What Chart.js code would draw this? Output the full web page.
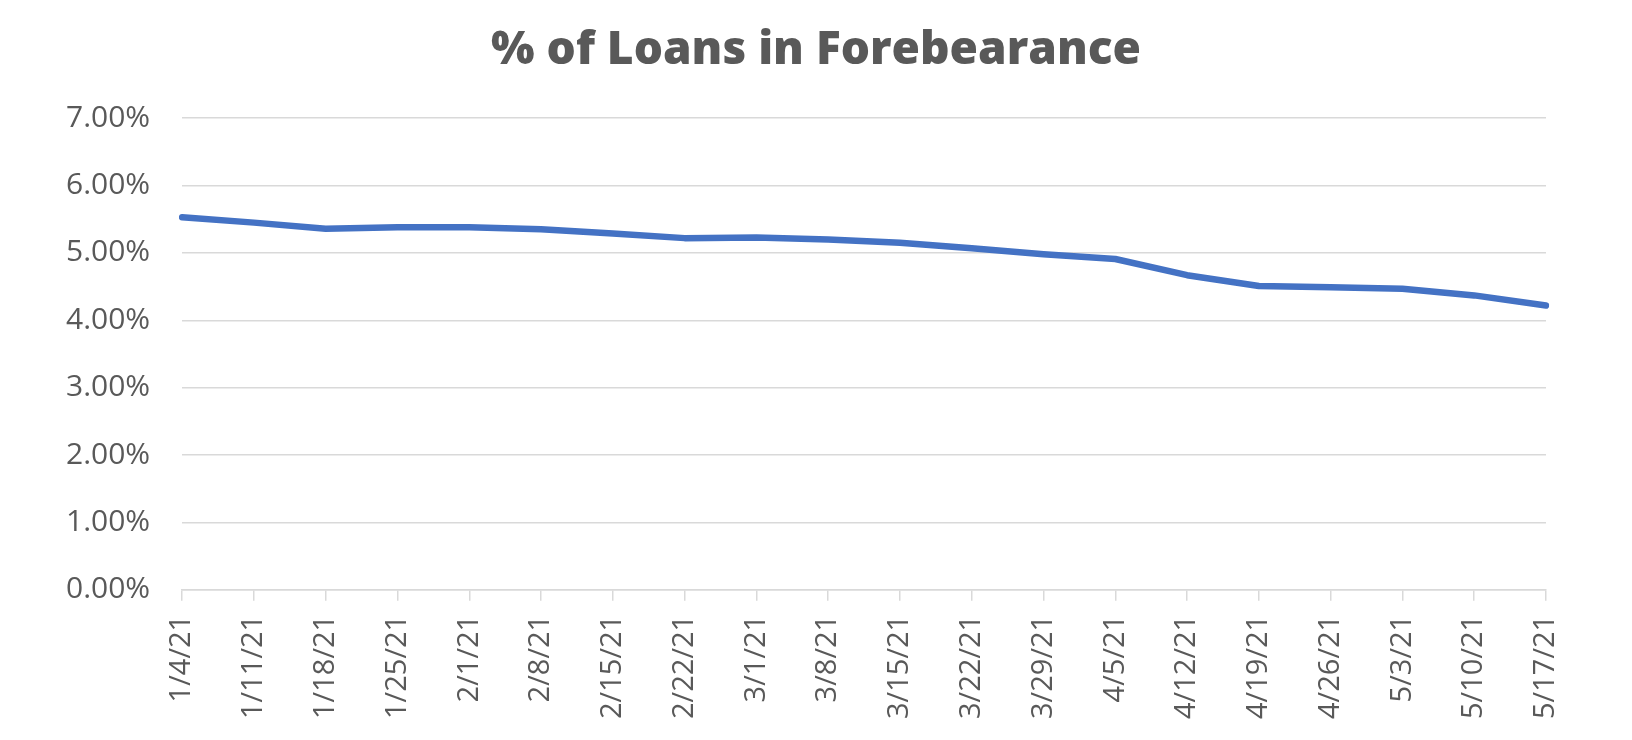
<!DOCTYPE html>
<html>
<head>
<meta charset="utf-8">
<script src="https://cdn.jsdelivr.net/npm/chart.js@4.4.0/dist/chart.umd.min.js"></script>
<style>
  html, body { margin: 0; padding: 0; background: #ffffff; }
  #wrap { width: 1632px; height: 740px; }
</style>
</head>
<body>
<div id="wrap"><canvas id="chart-forbearance"></canvas></div>
<script>
// Weekly share of loans in forbearance (percent)
const weeks = ['1/4/21', '1/11/21', '1/18/21', '1/25/21', '2/1/21', '2/8/21', '2/15/21',
    '2/22/21', '3/1/21', '3/8/21', '3/15/21', '3/22/21', '3/29/21', '4/5/21',
    '4/12/21', '4/19/21', '4/26/21', '5/3/21', '5/10/21', '5/17/21'];
const forbearancePct = [5.53, 5.45, 5.36, 5.38, 5.38, 5.35, 5.29,
    5.22, 5.23, 5.20, 5.15, 5.07, 4.98, 4.91,
    4.67, 4.51, 4.49, 4.47, 4.37, 4.22];
const yTicks = [0, 1, 2, 3, 4, 5, 6, 7];

const textColor = '#595959';
const gridColor = '#d9d9d9';

const ctx = document.getElementById('chart-forbearance').getContext('2d');
new Chart(ctx, {
    type: 'line',
    data: {
        labels: weeks,
        datasets: [{
            label: '% of Loans in Forebearance',
            data: forbearancePct,
            borderColor: '#4472c4',
            borderWidth: 6.5,
            borderCapStyle: 'round',
            borderJoinStyle: 'round',
            pointRadius: 0,
            tension: 0,
            fill: false
        }]
    },
    options: {
        responsive: true,
        maintainAspectRatio: false,
        animation: false,
        // equal side padding keeps the title centred on the canvas
        layout: { padding: { left: 34, right: 34, top: 0, bottom: 7 } },
        plugins: {
            legend: { display: false },
            tooltip: { enabled: false },
            title: {
                display: true,
                text: '% of Loans in Forebearance',
                color: textColor,
                font: { family: 'Open Sans', size: 46, weight: 800 },
                padding: { top: 23, bottom: 40 }
            }
        },
        scales: {
            x: {
                offset: false,
                grid: {
                    drawOnChartArea: false,
                    drawTicks: true,
                    tickLength: 11,
                    color: gridColor,
                    lineWidth: 1.5
                },
                border: { display: true, color: gridColor, width: 1.5 },
                ticks: {
                    autoSkip: false,
                    minRotation: 90,
                    maxRotation: 90,
                    padding: 14,
                    color: textColor,
                    font: { family: 'Open Sans', size: 29 }
                }
            },
            y: {
                min: yTicks[0],
                max: yTicks[yTicks.length - 1],
                afterBuildTicks: axis => { axis.ticks = yTicks.map(v => ({ value: v })); },
                grid: { drawTicks: false, color: gridColor, lineWidth: 1.5 },
                border: { display: false },
                ticks: {
                    padding: 32,
                    color: textColor,
                    font: { family: 'Open Sans', size: 30 },
                    callback: v => v.toFixed(2) + '%'
                }
            },
            // empty spacer on the right side of the plot
            spacer: {
                position: 'right',
                grid: { display: false },
                border: { display: false },
                ticks: { display: false },
                afterFit: axis => { axis.width = 52; }
            }
        }
    }
});
</script>
</body>
</html>
